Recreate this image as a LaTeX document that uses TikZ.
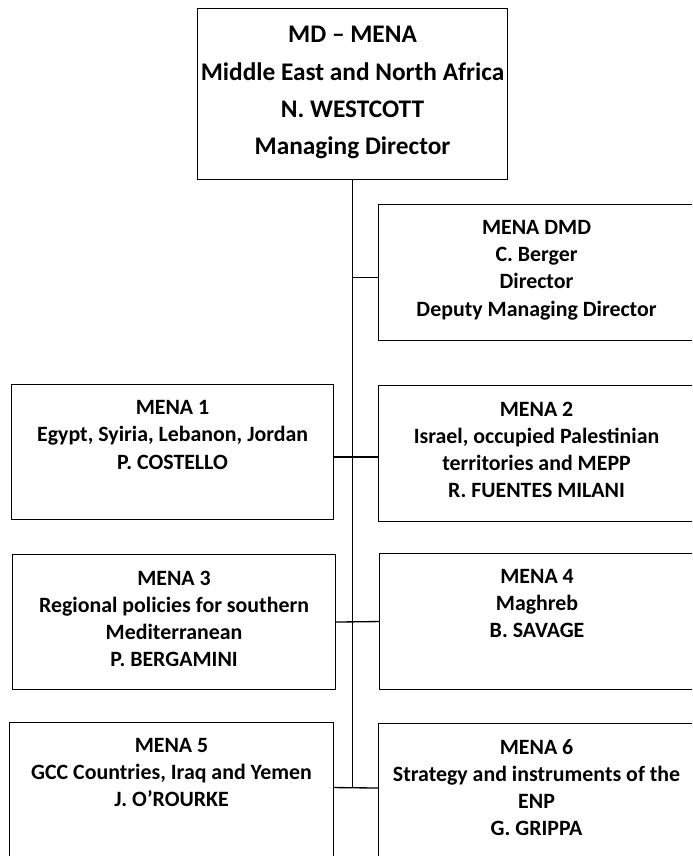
\documentclass[tikz,border=0pt]{standalone}
\usepackage{fontspec}
\setmainfont{Carlito}
\usetikzlibrary{positioning}
\tikzset{
  box/.style={draw, line width=0.8pt, inner sep=0pt, anchor=north west},
  txt/.style={align=center, inner sep=0pt, font=\bfseries\fontsize{16.4}{20.3}\selectfont},
  bigtxt/.style={align=center, inner sep=0pt, font=\bfseries\fontsize{19}{27.8}\selectfont},
  link/.style={line width=1pt}
}
\begin{document}
\begin{tikzpicture}[x=0.75pt,y=-0.75pt]
\clip (0,0) rectangle (692,856);
% boxes
\node[box, minimum width=232.5pt, minimum height=128.25pt] (md) at (197,8) {};
\node[box, minimum width=237pt, minimum height=102pt] (dmd) at (378,204) {};
\node[box, minimum width=241.5pt, minimum height=101.25pt] (m1) at (11,384) {};
\node[box, minimum width=237pt, minimum height=102pt] (m2) at (378,385) {};
\node[box, minimum width=242.25pt, minimum height=101.25pt] (m3) at (12,554) {};
\node[box, minimum width=236.25pt, minimum height=102pt] (m4) at (379,553) {};
\node[box, minimum width=243pt, minimum height=111pt] (m5) at (9,722) {};
\node[box, minimum width=237pt, minimum height=110.25pt] (m6) at (378,723) {};
% texts
\node[bigtxt, below=13.7pt of md.north] (mdt) {MD – MENA\\Middle East and North Africa\\N. WESTCOTT\\Managing Director};
\node[txt, below=12.3pt of dmd.north] (dmdt) {MENA DMD\\C. Berger\\Director\\Deputy Managing Director};
\node[txt, below=12.3pt of m1.north] (m1t) {MENA 1\\Egypt, Syiria, Lebanon, Jordan\\P. COSTELLO};
\node[txt, below=12.3pt of m2.north] (m2t) {MENA 2\\Israel, occupied Palestinian\\territories and MEPP\\R. FUENTES MILANI};
\node[txt, below=12.3pt of m3.north] (m3t) {MENA 3\\Regional policies for southern\\Mediterranean\\P. BERGAMINI};
\node[txt, below=12.3pt of m4.north] (m4t) {MENA 4\\Maghreb\\B. SAVAGE};
\node[txt, below=12.3pt of m5.north] (m5t) {MENA 5\\GCC Countries, Iraq and Yemen\\J. O’ROURKE};
\node[txt, below=12.3pt of m6.north] (m6t) {MENA 6\\Strategy and instruments of the\\ENP\\G. GRIPPA};
% lines
\path ([yshift=6.75pt]m5.east) coordinate (j5);
\draw[link] (md.south) -- (md.south |- j5);
\draw[link] (j5) -- ([yshift=6.75pt]m6.west);
\draw[link] ([yshift=-3.75pt]dmd.west) -- ([yshift=-3.75pt]dmd.west -| md.south);
\draw[link] ([yshift=-3.75pt]m1.east) -- ([yshift=-3.75pt]m1.east -| m2.west);
\draw[link] (m3.east) -- (m4.west);
\end{tikzpicture}
\end{document}
